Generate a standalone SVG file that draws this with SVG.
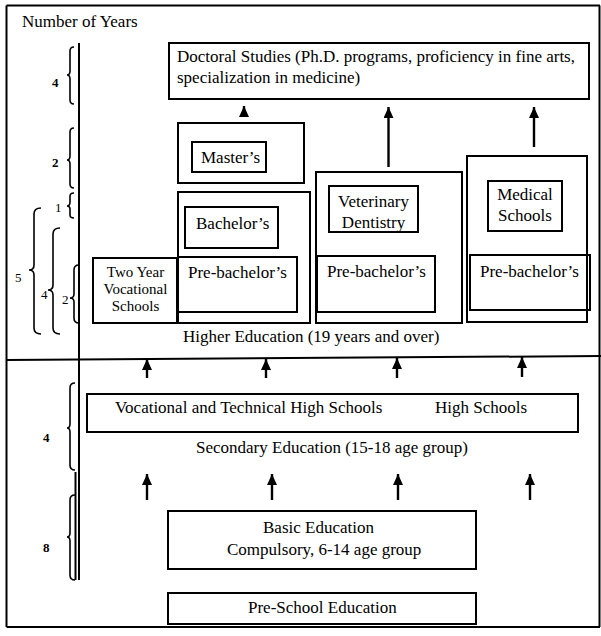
<svg xmlns="http://www.w3.org/2000/svg" width="601" height="636" viewBox="0 0 601 636">
<style>
.box{fill:none;stroke:#000;stroke-width:2}
.ln{fill:none;stroke:#000;stroke-width:2}
.br{fill:none;stroke:#000;stroke-width:1.6}
.t{font-family:"Liberation Serif","Times New Roman",serif;font-size:17px;fill:#000}
.s{font-family:"Liberation Serif","Times New Roman",serif;font-size:15px;fill:#000}
.n{font-family:"Liberation Serif","Times New Roman",serif;font-size:13px;fill:#000}
.nb{font-family:"Liberation Serif","Times New Roman",serif;font-size:13px;font-weight:bold;fill:#000}
.ar{fill:none;stroke:#000;stroke-width:2.4;marker-end:url(#ah)}
</style>
<defs>
<marker id="ah" markerUnits="userSpaceOnUse" markerWidth="11" markerHeight="10" viewBox="0 0 11 10" refX="11" refY="5" orient="auto">
<path d="M0,0 L11,5 L0,10 Z" fill="#000"/>
</marker>
</defs>
<rect width="601" height="636" fill="#fff"/>

<g id="frame">
<path class="ln" d="M6.5,5.5 H600 M6.5,5.5 V627 M6.5,627 H600 M599.5,5.5 V627"/>
<path class="ln" d="M6.5,360 L601,356"/>
<path class="ln" d="M79,43 V580"/>
<path class="ln" d="M75.5,472 V580" stroke-width="1.6"/>
<text class="t" x="22" y="27">Number of Years</text>
</g>

<g id="scale">
<path class="br" d="M74,47 Q70,47 70,51 V71 Q70,75 67,75 Q70,75 70,79 V100 Q70,104 74,104"/>
<text class="nb" x="52" y="87">4</text>
<path class="br" d="M74,128 Q70,128 70,132 V156 Q70,160 67,160 Q70,160 70,164 V184 Q70,188 74,188"/>
<text class="nb" x="52" y="167">2</text>
<path class="br" d="M74,193 Q70,193 70,196 V202 Q70,206 67,206 Q70,206 70,209 V215 Q70,218 74,218"/>
<text class="n" x="55" y="212">1</text>
<path class="br" d="M41,208 Q34,208 34,214 V265 Q34,270 29,270 Q34,270 34,275 V328 Q34,334 41,334"/>
<text class="n" x="15" y="282">5</text>
<path class="br" d="M60,228 Q53,228 53,234 V285 Q53,290 48,290 Q53,290 53,295 V328 Q53,334 60,334"/>
<text class="n" x="41" y="299">4</text>
<path class="br" d="M79,265 Q74,265 74,270 V294 Q74,298 70,298 Q74,298 74,302 V318 Q74,323 79,323"/>
<text class="n" x="62" y="304">2</text>
<path class="br" d="M75,383 Q70,383 70,388 V424 Q70,428 67,428 Q70,428 70,432 V465 Q70,470 75,470"/>
<text class="nb" x="43" y="442">4</text>
<path class="br" d="M75,495 Q70,495 70,500 V533 Q70,537 67,537 Q70,537 70,541 V575 Q70,580 75,580"/>
<text class="nb" x="43" y="552">8</text>
</g>

<g id="doctoral">
<rect class="box" x="169" y="43" width="420" height="56"/>
<text class="t" x="177" y="62">Doctoral Studies (Ph.D. programs, proficiency in fine arts,</text>
<text class="t" x="177" y="83">specialization in medicine)</text>
</g>

<g id="masters">
<rect class="box" x="178" y="123" width="126" height="60"/>
<rect class="box" x="192" y="142" width="74" height="30"/>
<text class="t" x="201" y="163">Master’s</text>
</g>

<g id="bachelors">
<rect class="box" x="178" y="192" width="132" height="131"/>
<rect class="box" x="185" y="207" width="93" height="41"/>
<text class="t" x="196" y="229">Bachelor’s</text>
<rect class="box" x="178" y="257" width="119" height="55"/>
<text class="t" x="188" y="278">Pre-bachelor’s</text>
</g>

<g id="two-year">
<rect class="box" x="93" y="258" width="84" height="65"/>
<text class="s" x="135.5" y="277" text-anchor="middle">Two Year</text>
<text class="s" x="135.5" y="294" text-anchor="middle">Vocational</text>
<text class="s" x="135.5" y="311" text-anchor="middle">Schools</text>
</g>

<g id="veterinary">
<rect class="box" x="316" y="172" width="146" height="151"/>
<rect class="box" x="329" y="186" width="89" height="46"/>
<text class="t" x="373.5" y="207" text-anchor="middle">Veterinary</text>
<text class="t" x="373.5" y="228" text-anchor="middle">Dentistry</text>
<rect class="box" x="317" y="256" width="118" height="56"/>
<text class="t" x="327" y="277">Pre-bachelor’s</text>
</g>

<g id="medical">
<rect class="box" x="467" y="156" width="120" height="166"/>
<rect class="box" x="488" y="181" width="74" height="50"/>
<text class="t" x="525" y="200" text-anchor="middle">Medical</text>
<text class="t" x="525" y="221" text-anchor="middle">Schools</text>
<rect class="box" x="470" y="255" width="120" height="55"/>
<text class="t" x="480" y="277">Pre-bachelor’s</text>
</g>

<g id="higher-label">
<text class="t" x="183" y="342">Higher Education (19 years and over)</text>
</g>

<g id="secondary">
<rect class="box" x="87" y="394" width="491" height="38"/>
<text class="t" x="115" y="413">Vocational and Technical High Schools</text>
<text class="t" x="435" y="413">High Schools</text>
<text class="t" x="332" y="453" text-anchor="middle">Secondary Education (15-18 age group)</text>
</g>

<g id="basic">
<rect class="box" x="168" y="511" width="308" height="58"/>
<text class="t" x="263" y="533">Basic Education</text>
<text class="t" x="227" y="555">Compulsory, 6-14 age group</text>
</g>

<g id="preschool">
<rect class="box" x="168" y="593" width="308" height="31"/>
<text class="t" x="248" y="613">Pre-School Education</text>
</g>

<g id="connectors">
<path class="ar" d="M244,116 V106"/>
<path class="ar" d="M388.5,167 V107"/>
<path class="ar" d="M534,147 V107"/>
<path class="ar" d="M147,378 V359"/>
<path class="ar" d="M266,378 V359"/>
<path class="ar" d="M397,378 V358"/>
<path class="ar" d="M522,377 V357"/>
<path class="ar" d="M147,500 V474"/>
<path class="ar" d="M272,500 V474"/>
<path class="ar" d="M398,500 V474"/>
<path class="ar" d="M530,500 V474"/>
</g>
</svg>
